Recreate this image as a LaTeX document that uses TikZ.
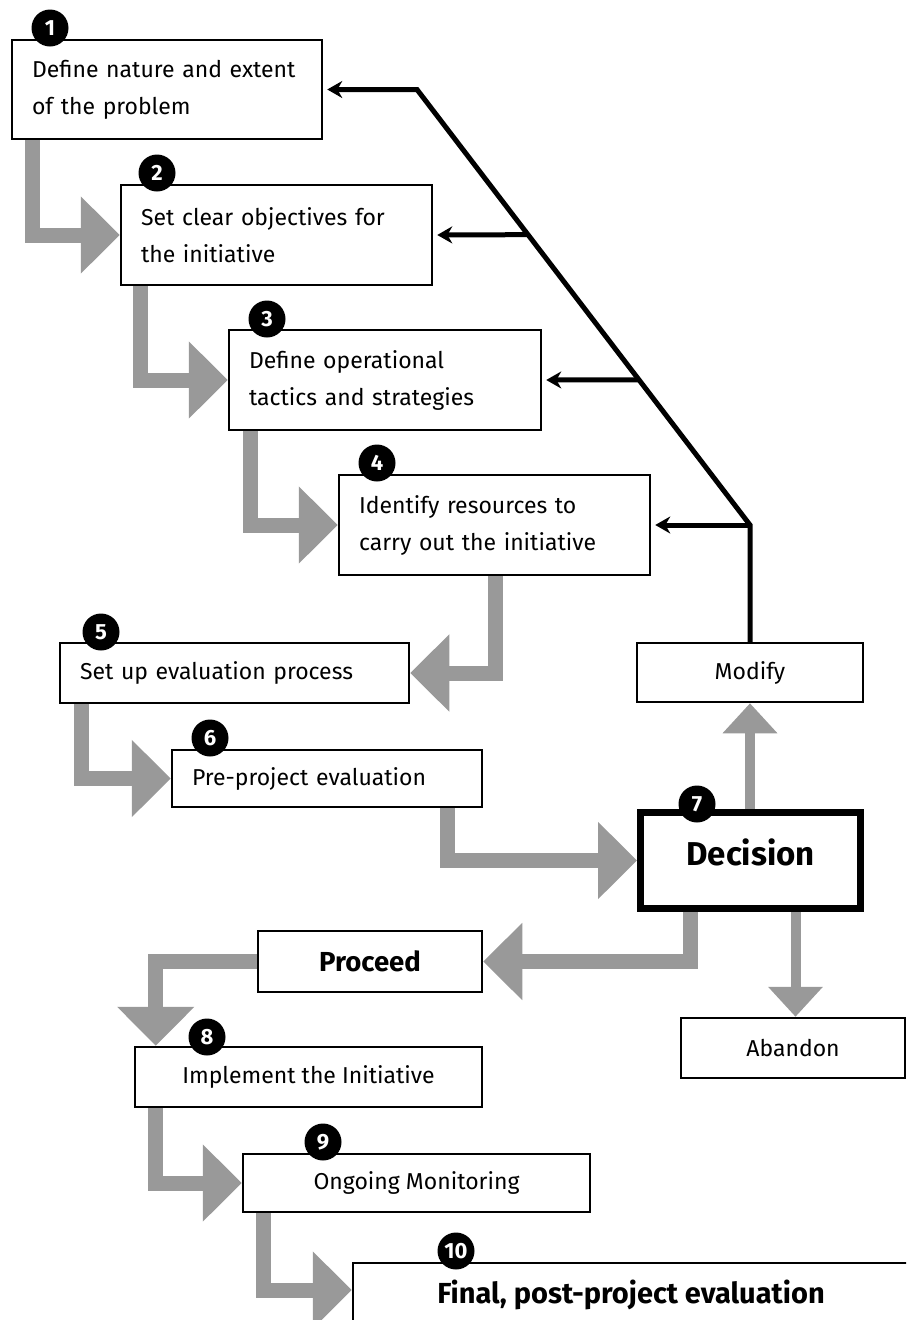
\documentclass[tikz,border=0pt]{standalone}
\usepackage{fontspec}
\setmainfont{Fira Sans}
\usetikzlibrary{arrows.meta,calc}
\definecolor{flowgray}{RGB}{153,153,153}

\begin{document}
\begin{tikzpicture}[x=1pt,y=-1pt, line join=miter,
	font=\fontsize{23}{37}\selectfont,
	box/.style={draw, line width=2.5pt, fill=white, inner ysep=0pt, inner xsep=20pt},
	bigtext/.style={font=\fontsize{27.5}{30}\selectfont\bfseries},
	badge/.style={circle, fill=black, text=white, minimum size=37pt, inner sep=0pt,
		font=\fontsize{22}{22}\selectfont\bfseries},
	flow/.style={draw=flowgray, line width=15pt, -{Triangle[length=39pt,width=75pt]}},
	thinflow/.style={draw=flowgray, line width=10pt, -{Triangle[length=30pt,width=53pt]}},
	fback/.style={draw, line width=5pt, -{Stealth[length=15pt,width=17pt]}, shorten >=4pt}]
	\path[use as bounding box] (0,0) rectangle (906,1320);
	\clip (0,0) rectangle (906,1320);
	
	% steps
	\node[box, text width=270pt, minimum height=99pt, align=left] (b1) at (167,89.5) {Define nature and extent\\of the problem};
	\node[box, text width=271pt, minimum height=100pt, align=left] (b2) at (276.5,235) {Set clear objectives for\\the initiative};
	\node[box, text width=272pt, minimum height=100pt, align=left] (b3) at (385,380) {Define operational\\tactics and strategies};
	\node[box, text width=271pt, minimum height=100pt, align=left] (b4) at (494.5,525) {Identify resources to\\carry out the initiative};
	\node[box, text width=309pt, minimum height=60pt, align=left] (b5) at (234.5,673) {Set up evaluation process};
	\node[box, text width=270pt, minimum height=57pt, align=left] (b6) at (327,778.5) {Pre-project evaluation};
	\node[box, line width=7pt, minimum width=220pt, minimum height=96pt, text depth=16pt,
		font=\fontsize{33}{34}\selectfont\bfseries] (b7) at (750.5,860.5) {Decision};
	\node[box, minimum width=226pt, minimum height=59pt] (modify) at (750,672.5) {Modify};
	\node[box, minimum width=224pt, minimum height=61pt, bigtext] (proceed) at (370,961.5) {Proceed};
	\node[box, minimum width=224pt, minimum height=60pt] (abandon) at (793,1048) {Abandon};
	\node[box, minimum width=347pt, minimum height=60pt] (b8) at (308.5,1077) {Implement the Initiative};
	\node[box, minimum width=347pt, minimum height=58pt] (b9) at (416.5,1183) {Ongoing Monitoring};
	\node[box, minimum width=556pt, minimum height=64pt, font=\fontsize{29}{30}\selectfont\bfseries] (b10) at (631,1295) {Final, post-project evaluation};
	
	% grey flow
	\draw[flow] ([xshift=22pt]b1.south west) |- (b2.west);
	\draw[flow] ([xshift=21pt]b2.south west) |- (b3.west);
	\draw[flow] ([xshift=23pt]b3.south west) |- (b4.west);
	\draw[flow] ([xshift=158pt]b4.south west) |- (b5.east);
	\draw[flow] ([xshift=23pt]b5.south west) |- (b6.west);
	\draw[flow] ([xshift=277pt]b6.south west) |- (b7.west);
	\draw[thinflow] (b7.north -| modify.south) -- (modify.south);
	\draw[flow] ([xshift=-60pt]b7.south) |- (proceed.east);
	\draw[thinflow] ([xshift=45pt]b7.south) -- ([xshift=45pt]b7.south |- abandon.north);
	\draw[flow] (proceed.west) -| ([xshift=22pt]b8.north west);
	\draw[flow] ([xshift=22pt]b8.south west) |- (b9.west);
	\draw[flow] ([xshift=22pt]b9.south west) |- ([yshift=5pt]b10.west);
	
	% feedback from Modify
	\coordinate (c4) at (modify.north |- b4.east);
	\coordinate (c1) at (417,89.5);
	\draw[fback] (modify.north) -- (c4) -- (c1) -- (b1.east);
	\draw[fback] ($(c1)!1/3!(c4)$) -- (b2.east);
	\draw[fback] ($(c1)!2/3!(c4)$) -- (b3.east);
	\draw[fback] (c4) -- (b4.east);
	
	% numbers
	\node[badge] (n1) at (50,28) {1};
	\node[badge] (n2) at (157,173) {2};
	\node[badge] (n3) at (267,319) {3};
	\node[badge] (n4) at (377,463) {4};
	\node[badge] (n5) at (101,632) {5};
	\node[badge] (n6) at (210,738) {6};
	\node[badge] (n7) at (697,804) {7};
	\node[badge] (n8) at (207,1037) {8};
	\node[badge] (n9) at (323,1142) {9};
	\node[badge] (n10) at (456,1251) {10};
\end{tikzpicture}
\end{document}
